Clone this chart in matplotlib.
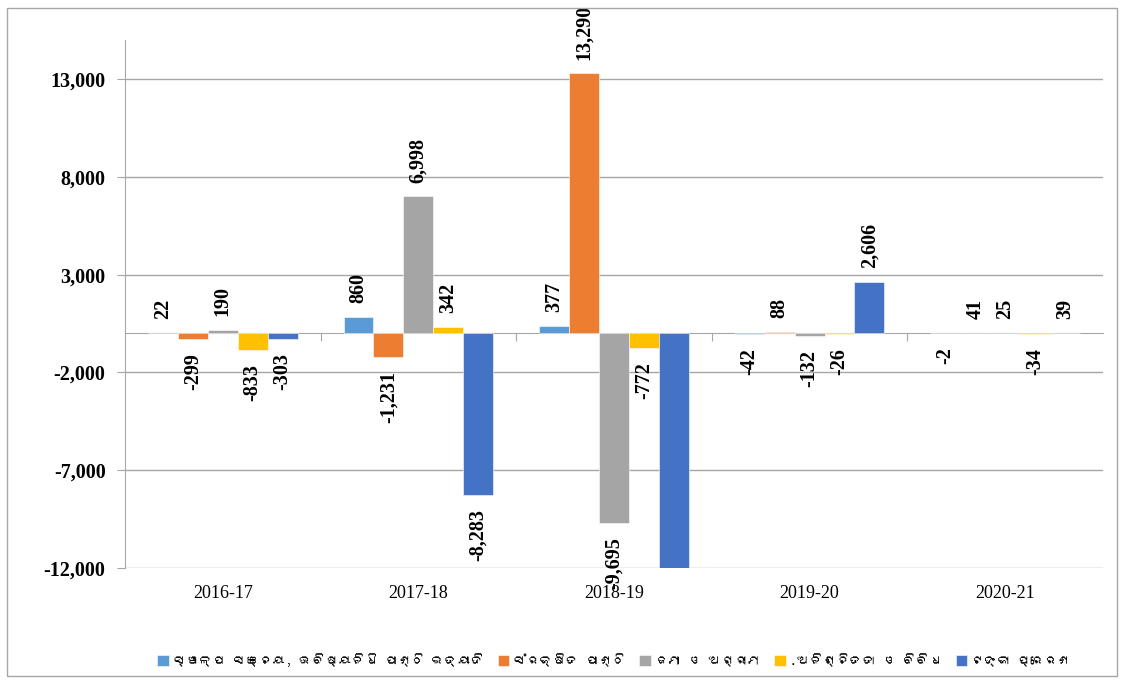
import matplotlib
matplotlib.use("Agg")
import numpy as np
import matplotlib.pyplot as plt
from matplotlib import font_manager
from matplotlib.ft2font import FT2Font
from matplotlib.patches import Rectangle

years = ["2016-17", "2017-18", "2018-19", "2019-20", "2020-21"]
series_names = [
    "ସ୍ୱଳ୍ପ ସଞ୍ଚୟ, ଭବିଷ୍ୟନିଧି ପାଣ୍ଠି ଇତ୍ୟାଦି",
    "ସଂରକ୍ଷିତ ପାଣ୍ଠି",
    "ଜମା ଓ ଅଗ୍ରୀମ",
    ".ଅନିଶ୍ଚିତତା ଓ ବିବିଧ",
    "ଟଙ୍କା ପ୍ରେରଣ",
]
small_savings = [22, 860, 377, -42, -2]
reserve_fund = [-299, -1231, 13290, 88, 41]
deposits = [190, 6998, -9695, -132, 25]
suspense = [-833, 342, -772, -26, -34]
remittance = [-303, -8283, -12500, 2606, 39]
colors = ["#5B9BD5", "#ED7D31", "#A5A5A5", "#FFC000", "#4472C4"]

yticks = [-12000, -7000, -2000, 3000, 8000, 13000]


# find an installed font with Odia glyphs, if any
def find_font(ch):
    for f in font_manager.fontManager.ttflist:
        try:
            if ord(ch) in FT2Font(f.fname).get_charmap():
                return f.name
        except Exception:
            pass
    return None


odia = find_font("ସ")
legend_fonts = [odia, "DejaVu Sans"] if odia else ["DejaVu Sans"]

plt.rcParams["font.family"] = ["Liberation Serif", "DejaVu Serif"]

fig = plt.figure(figsize=(11.24, 6.81), dpi=100)
ax = fig.add_axes([0.1112, 0.1659, 0.8701, 0.7754])

all_series = [small_savings, reserve_fund, deposits, suspense, remittance]
x = np.arange(len(years))
w = 0.153
ymin, ymax = -12000, 15000

for i, vals in enumerate(all_series):
    xs = x + (i - 2) * w
    ax.bar(xs, vals, width=w, color=colors[i], edgecolor="white", linewidth=0.4,
           label=series_names[i], zorder=3)
    for xi, v in zip(xs, vals):
        if v < ymin:
            continue
        ax.annotate(f"{v:,}", (xi, v), xytext=(0, 10 if v >= 0 else -10),
                    textcoords="offset points", rotation=90, ha="center",
                    va="bottom" if v >= 0 else "top", fontsize=14.5,
                    fontweight="bold", annotation_clip=False, zorder=4)

ax.set_xlim(-0.5, len(years) - 0.5)
ax.set_ylim(ymin, ymax)
ax.set_yticks(yticks)
ax.set_yticklabels([f"{t:,}" for t in yticks], fontsize=14.5, fontweight="bold")
ax.yaxis.grid(True, color="#A6A6A6", linewidth=1, zorder=0)
ax.tick_params(axis="y", length=6, color="#A6A6A6", pad=8)

for s in ["top", "right", "bottom"]:
    ax.spines[s].set_visible(False)
ax.spines["left"].set_color("#A6A6A6")

# category names at the bottom, no tick marks
ax.set_xticks(x)
ax.set_xticklabels(years, fontsize=13)
ax.tick_params(axis="x", length=0, pad=12)

# category axis line through zero, ticks between groups
sec = ax.secondary_xaxis(0, transform=ax.transData)
sec.set_xticks(np.arange(len(years) - 1) + 0.5)
sec.set_xticklabels([])
sec.tick_params(length=6, color="#A6A6A6")
sec.spines["bottom"].set_color("#A6A6A6")

ax.legend(loc="center", bbox_to_anchor=(0.5, -0.174), ncol=5, frameon=False,
          prop={"family": legend_fonts, "size": 9.5}, handlelength=0.9,
          handleheight=0.9, handletextpad=0.3, columnspacing=1.0)

fig.patches.append(Rectangle((0.006, 0.007), 0.988, 0.981, transform=fig.transFigure,
                             fill=False, edgecolor="#A6A6A6", linewidth=1))

fig.savefig("out.png", dpi=100)
